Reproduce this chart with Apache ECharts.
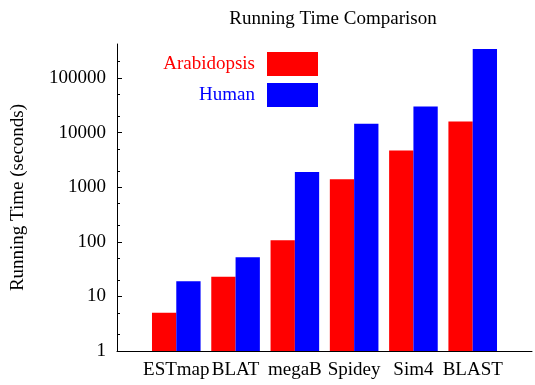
<!DOCTYPE html>
<html>
<head>
<meta charset="utf-8">
<script src="https://cdn.jsdelivr.net/npm/echarts@6/dist/echarts.min.js"></script>
<style>
  html, body { margin: 0; padding: 0; background: #fff; }
  #chart { width: 535px; height: 385px; }
</style>
</head>
<body>
<div id="chart"></div>
<script>
// Running times (seconds) of each aligner on two genomes
const categories = ['ESTmap', 'BLAT', 'megaB', 'Spidey', 'Sim4', 'BLAST'];
const arabidopsis = [5, 23, 107, 1400, 4700, 16000];
const human = [19, 52, 1900, 14500, 30000, 340000];

// Log-axis tick values
const yMajorTicks = [1, 10, 100, 1000, 10000, 100000];
const yMinorTicks = [2, 5, 20, 50, 200, 500, 2000, 5000, 20000, 50000, 200000];

const FONT = '"Liberation Serif", "Times New Roman", serif';
const FS = 19;

// Empty slots on both ends leave room left of the first group and right of the last
const axisCats = [''].concat(categories, ['']);
const pad = arr => ['-'].concat(arr, ['-']);

const chart = echarts.init(document.getElementById('chart'), null, { renderer: 'canvas' });

chart.setOption({
  animation: false,
  backgroundColor: '#ffffff',
  textStyle: { fontFamily: FONT },
  title: {
    text: 'Running Time Comparison',
    left: 328,
    textAlign: 'center',
    top: 5,
    textStyle: { fontFamily: FONT, fontSize: FS, fontWeight: 'normal', color: '#000' }
  },
  legend: {
    orient: 'vertical',
    align: 'right',
    right: 217,
    top: 52,
    padding: 0,
    itemWidth: 51,
    itemHeight: 24,
    itemGap: 7,
    icon: 'rect',
    selectedMode: false,
    data: [
      { name: 'Arabidopsis', textStyle: { color: '#ff0000' } },
      { name: 'Human', textStyle: { color: '#0000ff' } }
    ],
    textStyle: { fontFamily: FONT, fontSize: FS, padding: [0, 7, 0, 0] }
  },
  grid: { left: 117, right: -4, top: 44, bottom: 34, containLabel: false },
  xAxis: {
    type: 'category',
    data: axisCats,
    boundaryGap: false,
    axisLine: { show: true, lineStyle: { color: '#000', width: 1 } },
    axisTick: { show: false },
    splitLine: { show: false },
    axisLabel: { interval: 0, margin: 10, color: '#000', fontFamily: FONT, fontSize: FS }
  },
  yAxis: [
    {
      type: 'log',
      logBase: 10,
      min: 1,
      max: 420000,
      position: 'left',
      name: 'Running Time (seconds)',
      nameLocation: 'middle',
      nameRotate: 90,
      nameGap: 89,
      nameTextStyle: { fontFamily: FONT, fontSize: FS, color: '#000' },
      axisLine: { show: true, lineStyle: { color: '#000', width: 1 } },
      axisTick: { show: true, inside: true, length: 5, customValues: yMajorTicks, lineStyle: { color: '#000' } },
      axisLabel: {
        margin: 11, color: '#000', fontFamily: FONT, fontSize: FS,
        customValues: yMajorTicks,
        formatter: v => String(Math.round(v))
      },
      splitLine: { show: false }
    },
    {
      type: 'log',
      logBase: 10,
      min: 1,
      max: 420000,
      position: 'left',
      axisLine: { show: false },
      axisTick: { show: true, inside: true, length: 3, customValues: yMinorTicks, lineStyle: { color: '#000' } },
      axisLabel: { show: false },
      splitLine: { show: false }
    }
  ],
  series: [
    {
      name: 'Arabidopsis',
      type: 'bar',
      yAxisIndex: 0,
      data: pad(arabidopsis),
      barWidth: 24.3,
      barGap: '0%',
      itemStyle: { color: '#ff0000' }
    },
    {
      name: 'Human',
      type: 'bar',
      yAxisIndex: 0,
      data: pad(human),
      barWidth: 24.3,
      barGap: '0%',
      itemStyle: { color: '#0000ff' }
    }
  ]
});
</script>
</body>
</html>
